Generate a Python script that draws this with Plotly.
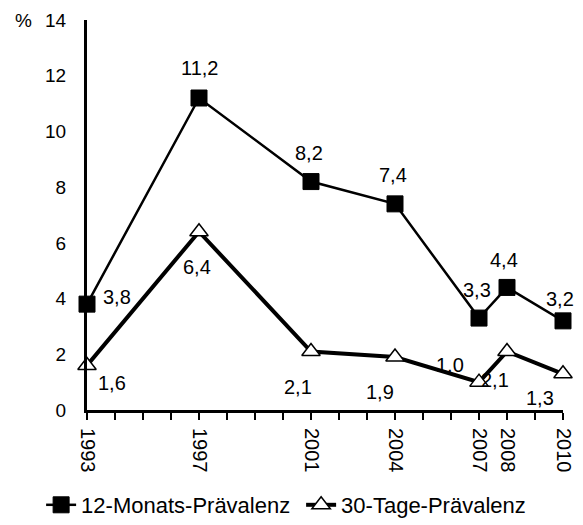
import plotly.graph_objects as go

years = [1993, 1997, 2001, 2004, 2007, 2008, 2010]
m12 = [3.8, 11.2, 8.2, 7.4, 3.3, 4.4, 3.2]
d30 = [1.6, 6.4, 2.1, 1.9, 1.0, 2.1, 1.3]
series_names = ["12-Monats-Prävalenz", "30-Tage-Prävalenz"]
y_ticks = [0, 2, 4, 6, 8, 10, 12, 14]

# label offsets (pixels) relative to each point
off_m12 = [(30, -7), (0, -30), (-2, -29), (-2, -29), (-2, -28), (-3, -27), (-3, -22)]
off_d30 = [(25, 18), (-2, 35), (-13, 35), (-15, 35), (-29, -17), (-12, 28), (-23, 24)]

FONT = "Liberation Sans, Arial, sans-serif"

def fmt(v):
    return f"{v:.1f}".replace(".", ",")

fig = go.Figure()
fig.add_trace(go.Scatter(
    x=years, y=m12, name=series_names[0], mode="lines+markers",
    line=dict(color="black", width=2.5),
    marker=dict(symbol="square", size=16, color="black", line=dict(color="black", width=1)),
    cliponaxis=False,
))
fig.add_trace(go.Scatter(
    x=years, y=d30, name=series_names[1], mode="lines+markers",
    line=dict(color="black", width=4),
    marker=dict(symbol="triangle-up", size=16, color="white", line=dict(color="black", width=1.5)),
    cliponaxis=False,
))

annotations = []
for vals, offs in ((m12, off_m12), (d30, off_d30)):
    for x, v, (dx, dy) in zip(years, vals, offs):
        annotations.append(dict(
            x=x, y=v, xref="x", yref="y", text=fmt(v), showarrow=False,
            xanchor="center", yanchor="middle",
            xshift=dx, yshift=-dy, font=dict(family=FONT, size=20, color="black"),
        ))
annotations.append(dict(
    x=0, y=14, xref="paper", yref="y", text="%", showarrow=False,
    xanchor="center", yanchor="middle",
    xshift=-64, font=dict(family=FONT, size=19, color="black"),
))

fig.update_layout(
    width=575, height=517,
    margin=dict(l=79, r=20, t=12, b=115, autoexpand=False),
    paper_bgcolor="white", plot_bgcolor="white",
    font=dict(family=FONT, size=19, color="black"),
    showlegend=True,
    legend=dict(
        orientation="h", xref="paper", yref="paper",
        x=-0.0964, xanchor="left", y=-0.2436, yanchor="middle",
        font=dict(family=FONT, size=22, color="black"),
        bgcolor="rgba(0,0,0,0)",
        itemwidth=30, entrywidth=215,
    ),
    annotations=annotations,
    xaxis=dict(
        range=[1993, 2010], tickmode="array", tickvals=years,
        ticktext=[str(y) for y in years], tickangle=90,
        showline=True, linecolor="black", linewidth=3,
        ticks="outside", ticklen=7, tickwidth=2, tickcolor="black",
        minor=dict(dtick=1, tick0=1993, ticks="outside", ticklen=7, tickwidth=2, tickcolor="black"),
        showgrid=False, zeroline=False, automargin=False,
        tickfont=dict(family=FONT, size=20, color="black"),
        ticklabelstandoff=4,
    ),
    yaxis=dict(
        range=[0, 14], tickmode="array", tickvals=y_ticks,
        showline=True, linecolor="black", linewidth=3,
        ticks="", showgrid=False, zeroline=False, automargin=False,
        tickfont=dict(family=FONT, size=19, color="black"),
        ticklabelstandoff=14,
    ),
)

fig.write_html("out.html")
